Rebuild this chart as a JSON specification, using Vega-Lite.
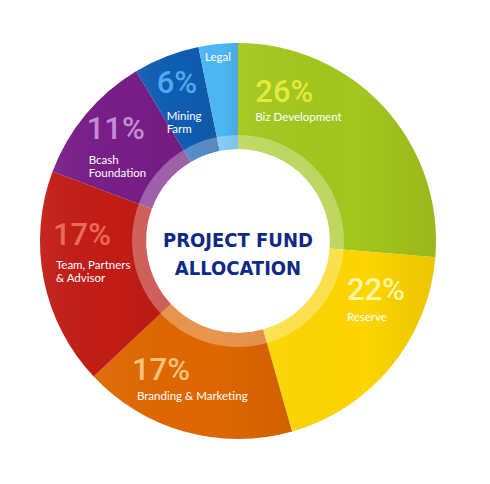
{
  "$schema": "https://vega.github.io/schema/vega-lite/v6.json",
  "width": 490,
  "height": 484,
  "autosize": {"type": "fit", "contains": "padding"},
  "padding": {"left": 0, "top": 0, "right": 14, "bottom": 2},
  "background": "white",
  "config": {"view": {"stroke": null}},
  "data": {
    "values": [
      {"rank": 1, "name": "Biz Development", "label": "Biz Development", "pct": "26%", "share": 26.3},
      {"rank": 2, "name": "Reserve", "label": "Reserve", "pct": "22%", "share": 19.3},
      {"rank": 3, "name": "Branding & Marketing", "label": "Branding & Marketing", "pct": "17%", "share": 17.4},
      {"rank": 4, "name": "Team, Partners & Advisor", "label": "Team, Partners\n& Advisor", "pct": "17%", "share": 17.7},
      {"rank": 5, "name": "Bcash Foundation", "label": "Bcash\nFoundation", "pct": "11%", "share": 10.7},
      {"rank": 6, "name": "Mining Farm", "label": "Mining\nFarm", "pct": "6%", "share": 5.4},
      {"rank": 7, "name": "Legal", "label": "Legal", "pct": "", "share": 3.2}
    ]
  },
  "layer": [
    {
      "mark": {"type": "arc", "outerRadius": 198, "innerRadius": 92},
      "encoding": {
        "theta": {"field": "share", "type": "quantitative", "stack": true},
        "order": {"field": "rank"},
        "color": {
          "field": "name",
          "type": "nominal",
          "legend": null,
          "scale": {
            "domain": ["Biz Development", "Reserve", "Branding & Marketing", "Team, Partners & Advisor", "Bcash Foundation", "Mining Farm", "Legal"],
            "range": ["#a3c71d", "#fdd500", "#df6700", "#c21c15", "#781d88", "#0f5db3", "#4cb7f5"]
          }
        }
      }
    },
    {
      "mark": {
        "type": "arc", "outerRadius": 198, "innerRadius": 92,
        "fill": {"gradient": "linear", "x1": 0, "y1": 0, "x2": 1, "y2": 0,
          "stops": [{"offset": 0, "color": "rgba(255,255,255,0.05)"}, {"offset": 0.6, "color": "rgba(0,0,0,0)"}, {"offset": 1, "color": "rgba(90,30,0,0.09)"}]}
      },
      "encoding": {
        "theta": {"field": "share", "type": "quantitative", "stack": true},
        "order": {"field": "rank"}
      }
    },
    {
      "data": {"values": [{"title": "PROJECT FUND\nALLOCATION"}]},
      "layer": [
        {
          "mark": {"type": "arc", "innerRadius": 92, "outerRadius": 106, "theta": 0, "theta2": 6.2832, "fill": "white", "opacity": 0.3},
          "encoding": {}
        },
        {
          "mark": {"type": "text", "font": "DejaVu Sans Condensed, Roboto", "fontWeight": "bold", "fontSize": 20, "color": "#0e2a84", "lineBreak": "\n", "lineHeight": 28, "baseline": "middle"},
          "encoding": {"text": {"field": "title"}}
        }
      ]
    },
    {
      "mark": {
        "type": "text", "radius": 150, "align": "left", "baseline": "middle",
        "font": "Roboto", "fontWeight": 500, "fontSize": 31,
        "dx": {"expr": "[-93,-7,-66,-38,-36,-27,0][datum.rank-1]"},
        "dy": {"expr": "[-46,-45,-15,-34,-15,-17,0][datum.rank-1]"}
      },
      "encoding": {
        "theta": {"field": "share", "type": "quantitative", "stack": true},
        "order": {"field": "rank"},
        "text": {"field": "pct"},
        "color": {
          "field": "name",
          "type": "nominal",
          "legend": null,
          "scale": {
            "domain": ["Biz Development", "Reserve", "Branding & Marketing", "Team, Partners & Advisor", "Bcash Foundation", "Mining Farm", "Legal"],
            "range": ["#e2ea3c", "#fff6a0", "#f9c27a", "#ec6a55", "#c28ed2", "#4ea9ef", "#ffffff"]
          }
        }
      }
    },
    {
      "mark": {
        "type": "text", "radius": 150, "align": "left", "baseline": "middle",
        "font": "Lato", "fontSize": 11.5, "color": "white", "lineBreak": "\n", "lineHeight": 13,
        "dx": {"expr": "[-93,-7,-61,-35,-34,-17,-18][datum.rank-1]"},
        "dy": {"expr": "[-21,-18,11,-4,16,16,-34][datum.rank-1]"}
      },
      "encoding": {
        "theta": {"field": "share", "type": "quantitative", "stack": true},
        "order": {"field": "rank"},
        "text": {"field": "label"}
      }
    }
  ],
  "resolve": {"scale": {"color": "independent"}}
}
